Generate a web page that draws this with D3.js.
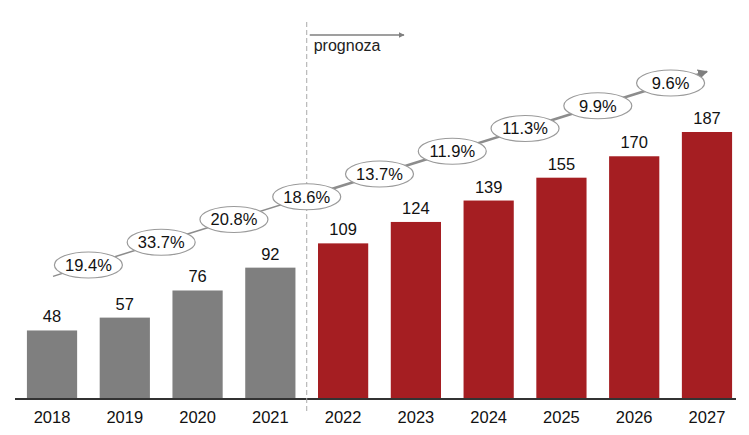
<!DOCTYPE html>
<html>
<head>
<meta charset="utf-8">
<script src="https://cdn.jsdelivr.net/npm/d3@7"></script>
<style>
  body { margin: 0; background: #fff; }
  svg { font-family: "Liberation Sans", Arial, sans-serif; }
</style>
</head>
<body>
<svg id="chart" width="749" height="435"></svg>
<script>
const years = ['2018', '2019', '2020', '2021', '2022', '2023', '2024', '2025', '2026', '2027'];
const values = [48, 57, 76, 92, 109, 124, 139, 155, 170, 187];
const growth = ['19.4%', '33.7%', '20.8%', '18.6%', '13.7%', '11.9%', '11.3%', '9.9%', '9.6%'];
const forecastFrom = '2022';

const svg = d3.select('#chart');

const x = d3.scaleBand().domain(years).range([16, 743]).paddingInner(0.31).paddingOuter(0.15);
const y = d3.scaleLinear().domain([0, 187]).range([399, 132]);

// bars
svg.append('g')
  .selectAll('rect')
  .data(years)
  .enter().append('rect')
  .attr('x', d => x(d))
  .attr('y', (d, i) => y(values[i]))
  .attr('width', x.bandwidth())
  .attr('height', (d, i) => y(0) - y(values[i]))
  .attr('fill', d => d < forecastFrom ? '#7f7f7f' : '#a51e22');

// value labels
svg.append('g')
  .selectAll('text')
  .data(years)
  .enter().append('text')
  .attr('x', d => x(d) + x.bandwidth() / 2)
  .attr('y', (d, i) => y(values[i]) - 8)
  .attr('text-anchor', 'middle')
  .attr('font-size', 16.5)
  .attr('fill', '#111')
  .text((d, i) => values[i]);

// x axis
const axis = svg.append('g')
  .attr('transform', `translate(0,${y(0)})`)
  .call(d3.axisBottom(x).tickSize(0).tickPadding(12));
axis.select('.domain').attr('d', 'M15,0H736').attr('stroke', '#333').attr('stroke-width', 2);
axis.selectAll('text').attr('font-size', 16.5).attr('fill', '#111').attr('font-family', '"Liberation Sans", Arial, sans-serif');

// forecast divider
const step = x.step();
const divX = x(forecastFrom) - (step - x.bandwidth()) / 2;
svg.append('line')
  .attr('x1', divX).attr('x2', divX)
  .attr('y1', 22).attr('y2', 412)
  .attr('stroke', '#aaa')
  .attr('stroke-dasharray', '5,3');

const defs = svg.append('defs');
defs.append('marker')
  .attr('id', 'head')
  .attr('viewBox', '0 0 10 10')
  .attr('refX', 9).attr('refY', 5)
  .attr('markerWidth', 4).attr('markerHeight', 4)
  .attr('orient', 'auto')
  .append('path').attr('d', 'M0,0L10,5L0,10Z').attr('fill', '#7f7f7f');

svg.append('line')
  .attr('x1', divX + 3).attr('x2', 404)
  .attr('y1', 35).attr('y2', 35)
  .attr('stroke', '#7f7f7f')
  .attr('stroke-width', 1.5)
  .attr('marker-end', 'url(#head)');
svg.append('text')
  .attr('x', divX + 7).attr('y', 51)
  .attr('font-size', 16)
  .attr('fill', '#222')
  .text('prognoza');

// growth trend line with bubbles
const gx = i => x(years[i]) + x.bandwidth() / 2 + step / 2;
const gy = d3.scaleLinear().domain([0, growth.length - 1]).range([265, 83]);
const slope = (gy(1) - gy(0)) / step;

const pts = [[x(years[0]) + x.bandwidth() / 2 + 1, gy(0) - slope * (gx(0) - x(years[0]) - x.bandwidth() / 2)]];
growth.forEach((g, i) => pts.push([gx(i), gy(i)]));
const lastX = x(years[years.length - 1]) + x.bandwidth() / 2;
pts.push([lastX, gy(growth.length - 1) + slope * (lastX - gx(growth.length - 1))]);

const segs = svg.append('g');
for (let i = 0; i < pts.length - 1; i++) {
  segs.append('line')
    .attr('x1', pts[i][0]).attr('y1', pts[i][1])
    .attr('x2', pts[i + 1][0]).attr('y2', pts[i + 1][1])
    .attr('stroke', '#8c8c8c')
    .attr('stroke-width', i < 4 ? 1.5 : 2.5)
    .attr('marker-end', 'url(#head)');
}

const bub = svg.append('g')
  .selectAll('g')
  .data(growth)
  .enter().append('g')
  .attr('transform', (d, i) => `translate(${gx(i)},${gy(i)})`);
bub.append('ellipse')
  .attr('rx', 34).attr('ry', 13)
  .attr('fill', '#fff')
  .attr('stroke', '#9a9a9a')
  .attr('stroke-width', 1.2);
bub.append('text')
  .attr('text-anchor', 'middle')
  .attr('dy', '0.36em')
  .attr('font-size', 16.5)
  .attr('fill', '#111')
  .text(d => d);
</script>
</body>
</html>
